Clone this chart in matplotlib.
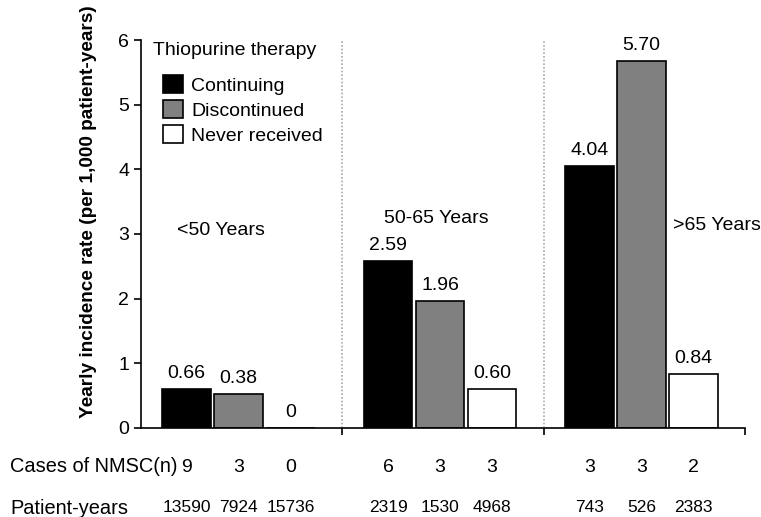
import matplotlib.pyplot as plt
import numpy as np
from matplotlib.patches import Patch
from matplotlib.transforms import blended_transform_factory

plt.rcParams['font.family'] = ['Liberation Sans', 'DejaVu Sans']

# data
age_groups = ["<50 Years", "50-65 Years", ">65 Years"]
therapy = ["Continuing", "Discontinued", "Never received"]
# bar heights as drawn
continuing = [0.60, 2.59, 4.05]
discontinued = [0.53, 1.96, 5.68]
never_received = [0.0, 0.60, 0.84]
# printed labels above bars
continuing_lbl = ["0.66", "2.59", "4.04"]
discontinued_lbl = ["0.38", "1.96", "5.70"]
never_lbl = ["0", "0.60", "0.84"]
# table rows under the chart
cases = [[9, 3, 0], [6, 3, 3], [3, 3, 2]]
patient_years = [[13590, 7924, 15736], [2319, 1530, 4968], [743, 526, 2383]]

colors = ['black', '#808080', 'white']
fs = 14

fig = plt.figure(figsize=(7.61, 5.17), dpi=100)
ax = fig.add_axes([141 / 761, 89 / 517, 604 / 761, 388 / 517])

x = np.arange(len(age_groups))
width = 0.242
step = 0.258
offsets = [-0.015 - step, -0.015, -0.015 + step]

series = [continuing, discontinued, never_received]
labels = [continuing_lbl, discontinued_lbl, never_lbl]
for i, (vals, lbls) in enumerate(zip(series, labels)):
    bars = ax.bar(x + offsets[i], vals, width, color=colors[i],
                  edgecolor='black', linewidth=1.2)
    ax.bar_label(bars, labels=lbls, padding=5, fontsize=fs, clip_on=False)

# group separators
for b in [0.5, 1.5]:
    ax.axvline(b, color='#aaaaaa', linestyle=(0, (1, 1.2)), linewidth=1.2)

# age group labels
ax.text(-0.105, 3.05, age_groups[0], ha='center', va='center', fontsize=fs)
ax.text(0.965, 3.24, age_groups[1], ha='center', va='center', fontsize=fs)
ax.text(2.14, 3.13, age_groups[2], ha='left', va='center', fontsize=fs,
        clip_on=False)

ax.set_xlim(-0.5, 2.5)
ax.set_ylim(0, 6)
ax.set_yticks(range(0, 7))
ax.set_xticks([0.5, 1.5, 2.5])
ax.set_xticklabels([])
ax.tick_params(axis='y', labelsize=fs, length=5, width=1.2, direction='out')
ax.tick_params(axis='x', length=5, width=1.2, direction='out')
ax.spines['top'].set_visible(False)
ax.spines['right'].set_visible(False)
ax.spines['left'].set_linewidth(1.2)
ax.spines['bottom'].set_linewidth(1.2)

ax.set_ylabel('Yearly incidence rate (per 1,000 patient-years)',
              fontsize=13.7, fontweight='bold')
ax.yaxis.set_label_coords(-0.073, 0.557)

# legend with separate title
ax.text(0.02, 0.974, 'Thiopurine therapy', transform=ax.transAxes,
        ha='left', va='center', fontsize=fs)
handles = [Patch(facecolor=c, edgecolor='black', linewidth=1.2) for c in colors]
ax.legend(handles, therapy, loc='upper left', bbox_to_anchor=(0.036, 0.91),
          frameon=False, fontsize=fs, handlelength=1.05, handleheight=1.05,
          handletextpad=0.4, labelspacing=0.28, borderaxespad=0, borderpad=0)

# table rows below the axis
trans = blended_transform_factory(ax.transData, fig.transFigure)
row_y = [1 - 467 / 517, 1 - 508 / 517]
fig.text(10 / 761, row_y[0], 'Cases of NMSC(n)', fontsize=14.4, va='center')
fig.text(10 / 761, row_y[1], 'Patient-years', fontsize=14.4, va='center')
for g in range(len(age_groups)):
    for i in range(3):
        ax.text(x[g] + offsets[i], row_y[0], str(cases[g][i]), transform=trans,
                ha='center', va='center', fontsize=fs)
        ax.text(x[g] + offsets[i], row_y[1], str(patient_years[g][i]),
                transform=trans, ha='center', va='center', fontsize=12.5)

fig.savefig('out.png', dpi=100)
